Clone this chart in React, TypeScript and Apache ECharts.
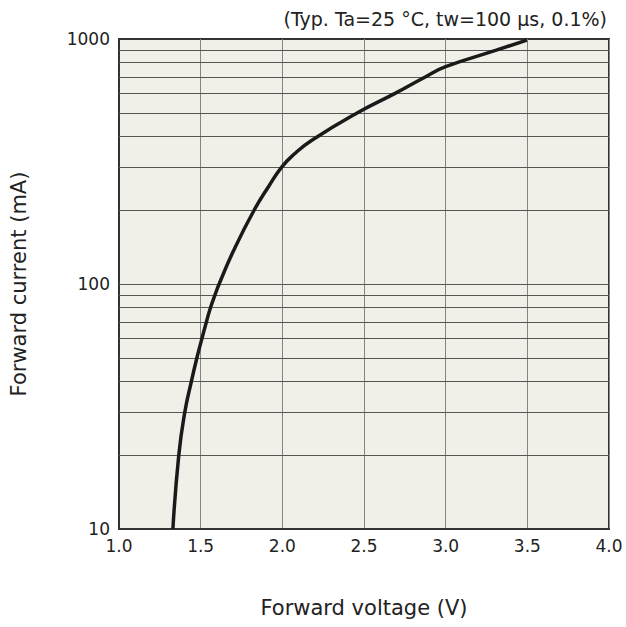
import React, { useEffect, useRef } from "react";
import * as echarts from "echarts";

const voltage = [1.33, 1.366, 1.403, 1.443, 1.477, 1.508, 1.535, 1.56, 1.587, 1.613, 1.704, 1.827, 1.916, 1.996, 2.075, 2.183, 2.46, 2.69, 2.875, 3.0, 3.31, 3.497];
const current = [10, 20, 30, 40, 50, 60, 70, 80, 90, 100, 138, 200, 250, 300, 340, 387, 500, 600, 700, 771, 900, 990];
const minorGrid = [20, 30, 40, 50, 60, 70, 80, 90, 200, 300, 400, 500, 600, 700, 800, 900];
const majorGrid = [100];
const noteText = "(Typ. Ta=25 °C, tw=100 μs, 0.1%)";
const xTitle = "Forward voltage (V)";
const yTitle = "Forward current (mA)";

const FONT = "DejaVu Sans";

export default function App() {
  const ref = useRef<HTMLDivElement>(null);
  useEffect(() => {
    const chart = echarts.init(ref.current!, null, { renderer: "svg" });
    chart.setOption({
      animation: false,
      textStyle: { fontFamily: FONT },
      grid: {
        left: 118,
        right: 17,
        top: 39,
        bottom: 98,
        show: true,
        backgroundColor: "#f1f0e8",
        borderColor: "#333",
        borderWidth: 2,
      },
      graphic: [
        {
          type: "text",
          right: 19,
          top: 9,
          style: { text: noteText, font: `19px '${FONT}'`, fill: "#222" },
        },
      ],
      xAxis: {
        type: "value",
        min: 1,
        max: 4,
        interval: 0.5,
        name: xTitle,
        nameLocation: "middle",
        nameGap: 68,
        nameTextStyle: { fontSize: 21, color: "#222", fontFamily: FONT },
        axisLine: { lineStyle: { color: "#333", width: 2 } },
        axisTick: { show: false },
        axisLabel: {
          fontSize: 17,
          color: "#222",
          margin: 8,
          formatter: (v: number) => v.toFixed(1),
        },
        splitLine: { show: true, lineStyle: { color: "#858580", width: 1 } },
      },
      yAxis: {
        type: "log",
        logBase: 10,
        min: 10,
        max: 1000,
        name: yTitle,
        nameLocation: "middle",
        nameGap: 90,
        nameTextStyle: { fontSize: 21, color: "#222", fontFamily: FONT },
        axisLine: { lineStyle: { color: "#333", width: 2 } },
        axisTick: { show: false },
        axisLabel: {
          fontSize: 17,
          color: "#222",
          margin: 9,
          formatter: (v: number) => String(Math.round(v)),
        },
        splitLine: { show: false },
      },
      series: [
        {
          type: "line",
          data: [],
          silent: true,
          markLine: {
            silent: true,
            symbol: "none",
            label: { show: false },
            lineStyle: { color: "#555", width: 1, type: "solid" },
            data: [...minorGrid, ...majorGrid].map((v) => ({ yAxis: v })),
          },
        },
        {
          type: "line",
          data: voltage.map((v, i) => [v, current[i]]),
          smooth: 0.5,
          showSymbol: false,
          lineStyle: { color: "#1a1a1a", width: 3.5 },
          z: 5,
        },
      ],
    });
    return () => chart.dispose();
  }, []);
  return (
    <div
      ref={ref}
      style={{ position: "absolute", left: 0, top: 0, width: 626, height: 627 }}
    />
  );
}
